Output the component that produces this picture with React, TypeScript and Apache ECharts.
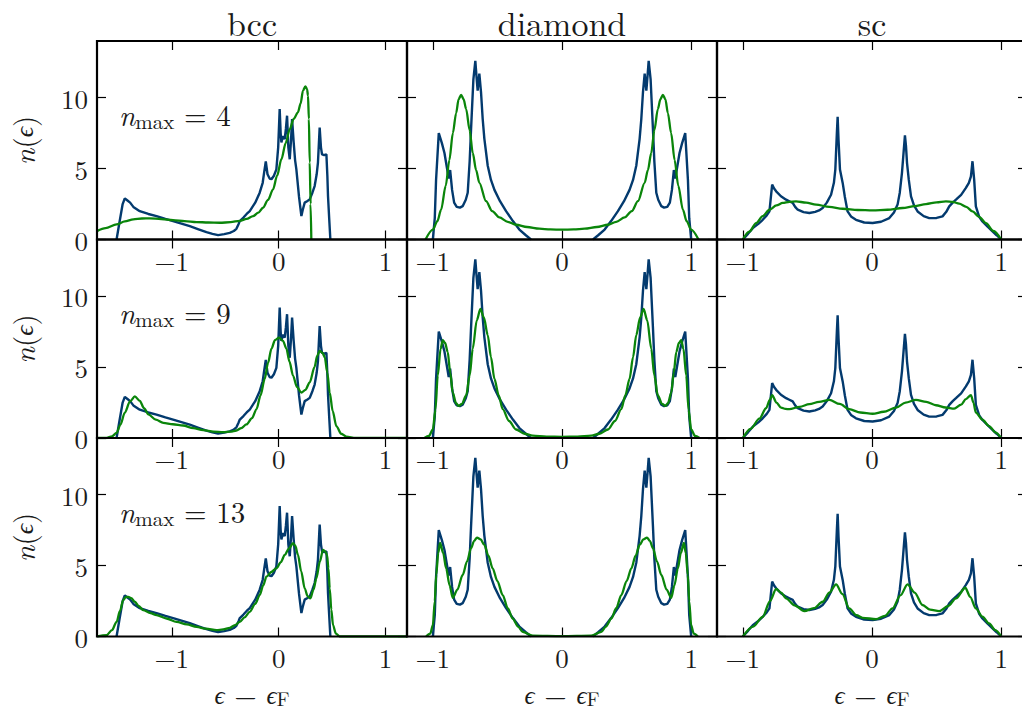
import React, { useEffect, useRef } from "react";
import * as echarts from "echarts";

// ---------- data ----------
const columnTitles = ["bcc", "diamond", "sc"];
const nmaxValues = [4, 9, 13];
const xRanges: number[][] = [[-1.7, 1.2], [-1.2, 1.2], [-1.2, 1.2]];
const xTickValues = [-1, 0, 1];
const yTickValues = [0, 5, 10];
const yMax = 14;

// exact DOS (dark blue), same in every row of a column
const bccExact: number[][] = [[-1.517,0],[-1.49,1.2],[-1.46,2.5],[-1.44,2.9],[-1.415,2.75],[-1.39,2.6],[-1.36,2.3],[-1.3,2.0],[-1.22,1.8],[-1.143,1.65],[-1.06,1.45],[-0.988,1.3],[-0.91,1.12],[-0.832,0.94],[-0.75,0.72],[-0.676,0.52],[-0.62,0.4],[-0.567,0.31],[-0.51,0.38],[-0.458,0.47],[-0.42,0.6],[-0.396,0.75],[-0.375,1.1],[-0.364,1.3],[-0.33,1.55],[-0.3,1.8],[-0.271,2.0],[-0.22,2.6],[-0.178,3.3],[-0.15,4.0],[-0.135,4.8],[-0.121,5.5],[-0.105,4.6],[-0.085,4.3],[-0.068,4.25],[-0.045,4.5],[-0.022,4.95],[-0.005,6.5],[0.009,9.2],[0.018,7.5],[0.025,6.84],[0.04,7.3],[0.056,7.08],[0.067,7.8],[0.078,8.73],[0.09,6.5],[0.103,5.66],[0.115,7.0],[0.125,8.5],[0.14,6.84],[0.153,5.6],[0.165,4.95],[0.19,3.0],[0.212,1.65],[0.225,2.1],[0.243,2.6],[0.265,2.7],[0.29,2.83],[0.315,3.3],[0.336,3.77],[0.355,4.6],[0.367,5.43],[0.383,7.9],[0.395,6.5],[0.405,6.0],[0.425,5.95],[0.446,6.0],[0.455,4.5],[0.461,3.07],[0.472,1.5],[0.483,0]];
const diamondExact: any[] = [[-1.0,0],[-0.985,1.5],[-0.975,4.2],[-0.954,7.5],[-0.93,6.8],[-0.91,6.1],[-0.877,4.3],[-0.866,4.9],[-0.851,3.5],[-0.835,2.6],[-0.815,2.3],[-0.79,2.25],[-0.769,2.35],[-0.745,2.8],[-0.73,3.3],[-0.715,5.5],[-0.704,7.8],[-0.686,11.3],[-0.671,12.6],[-0.662,11.5],[-0.653,10.5],[-0.64,11.7],[-0.627,10.4],[-0.614,8.5],[-0.601,7.1],[-0.575,5.2],[-0.55,4.2],[-0.523,3.5],[-0.48,2.7],[-0.433,2.0],[-0.38,1.3],[-0.33,0.7],[-0.28,0.3],[-0.24,0],[0,"-"],[0.24,0],[0.28,0.3],[0.33,0.7],[0.38,1.3],[0.433,2.0],[0.48,2.7],[0.523,3.5],[0.55,4.2],[0.575,5.2],[0.601,7.1],[0.614,8.5],[0.627,10.4],[0.64,11.7],[0.653,10.5],[0.662,11.5],[0.671,12.6],[0.686,11.3],[0.704,7.8],[0.715,5.5],[0.73,3.3],[0.745,2.8],[0.769,2.35],[0.79,2.25],[0.815,2.3],[0.835,2.6],[0.851,3.5],[0.866,4.9],[0.877,4.3],[0.91,6.1],[0.93,6.8],[0.954,7.5],[0.975,4.2],[0.985,1.5],[1.0,0]];
const scExact: number[][] = [[-1,0],[-0.96,0.4],[-0.923,0.8],[-0.88,1.1],[-0.846,1.39],[-0.815,1.7],[-0.794,1.98],[-0.785,2.8],[-0.773,3.87],[-0.758,3.6],[-0.742,3.4],[-0.705,3.05],[-0.665,2.81],[-0.64,2.7],[-0.614,2.58],[-0.595,2.3],[-0.575,2.1],[-0.53,1.93],[-0.485,1.87],[-0.44,1.95],[-0.41,2.05],[-0.382,2.22],[-0.35,2.6],[-0.317,3.16],[-0.295,4.0],[-0.284,4.93],[-0.272,7.5],[-0.266,8.66],[-0.259,7.0],[-0.248,4.93],[-0.227,3.99],[-0.21,3.0],[-0.189,1.98],[-0.16,1.6],[-0.124,1.39],[-0.06,1.2],[0.005,1.16],[0.07,1.25],[0.134,1.51],[0.17,1.9],[0.198,2.46],[0.215,3.3],[0.232,4.7],[0.245,6.2],[0.255,7.34],[0.263,6.6],[0.271,5.41],[0.285,4.2],[0.302,3.04],[0.325,2.4],[0.353,1.98],[0.4,1.65],[0.443,1.51],[0.5,1.52],[0.546,1.63],[0.575,1.95],[0.598,2.34],[0.625,2.6],[0.65,2.81],[0.69,3.15],[0.727,3.64],[0.75,4.0],[0.766,4.46],[0.778,5.52],[0.791,4.22],[0.804,2.34],[0.83,1.6],[0.855,1.27],[0.895,0.9],[0.933,0.57],[0.965,0.3],[1.0,0]];

// approximations (green), one per n_max
const bccN4: number[][] = [[-1.7,0.59],[-1.62,0.8],[-1.517,1.06],[-1.44,1.28],[-1.36,1.42],[-1.28,1.48],[-1.206,1.49],[-1.1,1.44],[-0.988,1.37],[-0.88,1.3],[-0.769,1.23],[-0.66,1.2],[-0.551,1.18],[-0.45,1.22],[-0.364,1.32],[-0.3,1.45],[-0.24,1.65],[-0.19,1.9],[-0.147,2.24],[-0.1,2.8],[-0.053,3.54],[-0.015,4.5],[0.025,5.66],[0.065,6.8],[0.103,7.78],[0.14,8.5],[0.18,8.97],[0.205,9.6],[0.227,10.5],[0.249,10.8],[0.265,10.6],[0.274,10.14],[0.282,8.5],[0.29,5.43],[0.298,2.5],[0.305,0]];
const bccN9: number[][] = [[-1.7,0],[-1.61,0],[-1.56,0.12],[-1.517,0.36],[-1.48,0.95],[-1.44,1.79],[-1.39,2.6],[-1.346,2.93],[-1.3,2.62],[-1.26,2.1],[-1.22,1.67],[-1.15,1.3],[-1.08,1.07],[-0.99,0.97],[-0.894,0.88],[-0.8,0.7],[-0.707,0.55],[-0.61,0.45],[-0.52,0.41],[-0.45,0.45],[-0.396,0.53],[-0.35,0.7],[-0.302,0.96],[-0.25,1.4],[-0.208,2.03],[-0.17,3.0],[-0.131,4.17],[-0.1,5.3],[-0.068,6.3],[-0.035,6.9],[0.003,7.07],[0.04,6.85],[0.072,6.3],[0.1,5.4],[0.134,4.4],[0.17,3.6],[0.212,3.2],[0.25,3.4],[0.29,3.93],[0.335,5.0],[0.36,5.8],[0.383,6.14],[0.41,6.0],[0.43,5.71],[0.455,4.6],[0.477,3.2],[0.505,1.9],[0.539,0.84],[0.585,0.3],[0.632,0.1],[0.72,0],[1.2,0]];
const bccN13: number[][] = [[-1.7,0],[-1.61,0.09],[-1.56,0.45],[-1.517,1.03],[-1.485,1.8],[-1.455,2.57],[-1.43,2.78],[-1.408,2.8],[-1.38,2.7],[-1.346,2.45],[-1.31,2.15],[-1.268,1.86],[-1.2,1.65],[-1.143,1.51],[-1.05,1.27],[-0.956,1.03],[-0.86,0.85],[-0.769,0.68],[-0.68,0.55],[-0.582,0.45],[-0.52,0.5],[-0.458,0.61],[-0.41,0.8],[-0.364,1.03],[-0.32,1.35],[-0.271,1.74],[-0.22,2.3],[-0.178,2.92],[-0.145,3.6],[-0.115,4.22],[-0.07,4.55],[-0.022,4.81],[0.02,5.25],[0.056,5.75],[0.095,6.2],[0.134,6.58],[0.155,6.4],[0.18,5.75],[0.21,4.6],[0.243,3.4],[0.27,2.85],[0.296,2.69],[0.325,3.3],[0.352,4.1],[0.385,5.3],[0.414,6.1],[0.435,6.0],[0.452,5.75],[0.465,4.8],[0.477,3.4],[0.492,1.9],[0.508,0.8],[0.535,0.2],[0.57,0],[1.2,0]];

const diamondN4: number[][] = [[-1.057,0],[-1.0,0.7],[-0.965,1.3],[-0.936,2.1],[-0.9,3.8],[-0.872,5.6],[-0.845,7.5],[-0.82,8.9],[-0.8,9.9],[-0.781,10.2],[-0.762,9.9],[-0.742,9.2],[-0.715,7.7],[-0.691,6.1],[-0.665,4.9],[-0.64,4.0],[-0.588,2.7],[-0.54,2.0],[-0.485,1.56],[-0.42,1.25],[-0.356,1.04],[-0.27,0.88],[-0.176,0.76],[-0.09,0.71],[0,0.69],[0.09,0.71],[0.176,0.76],[0.27,0.88],[0.356,1.04],[0.42,1.25],[0.485,1.56],[0.54,2.0],[0.588,2.7],[0.64,4.0],[0.665,4.9],[0.691,6.1],[0.715,7.7],[0.742,9.2],[0.762,9.9],[0.781,10.2],[0.8,9.9],[0.82,8.9],[0.845,7.5],[0.872,5.6],[0.9,3.8],[0.936,2.1],[0.965,1.3],[1.0,0.7],[1.057,0]];
const diamondN9: number[][] = [[-1.065,0],[-1.03,0.15],[-1.0,0.6],[-0.98,2.0],[-0.962,4.4],[-0.94,6.3],[-0.923,6.9],[-0.905,6.7],[-0.885,6.07],[-0.865,4.6],[-0.846,3.2],[-0.82,2.45],[-0.8,2.26],[-0.775,2.4],[-0.742,3.0],[-0.715,4.4],[-0.691,6.3],[-0.66,8.3],[-0.632,9.1],[-0.605,8.5],[-0.575,7.26],[-0.55,5.7],[-0.523,4.17],[-0.49,3.0],[-0.459,2.03],[-0.41,1.2],[-0.356,0.6],[-0.29,0.3],[-0.227,0.17],[-0.12,0.1],[0,0.08],[0.12,0.1],[0.227,0.17],[0.29,0.3],[0.356,0.6],[0.41,1.2],[0.459,2.03],[0.49,3.0],[0.523,4.17],[0.55,5.7],[0.575,7.26],[0.605,8.5],[0.632,9.1],[0.66,8.3],[0.691,6.3],[0.715,4.4],[0.742,3.0],[0.775,2.4],[0.8,2.26],[0.82,2.45],[0.846,3.2],[0.865,4.6],[0.885,6.07],[0.905,6.7],[0.923,6.9],[0.94,6.3],[0.962,4.4],[0.98,2.0],[1.0,0.6],[1.03,0.15],[1.065,0]];
const diamondN13: number[][] = [[-1.052,0],[-1.02,0.2],[-1.0,0.8],[-0.985,2.5],[-0.974,4.34],[-0.958,5.9],[-0.944,6.6],[-0.92,5.9],[-0.897,4.8],[-0.87,3.6],[-0.846,2.73],[-0.81,3.3],[-0.769,4.34],[-0.735,5.3],[-0.704,6.23],[-0.68,6.75],[-0.658,6.98],[-0.63,6.85],[-0.601,6.46],[-0.57,5.7],[-0.537,4.81],[-0.5,3.9],[-0.459,2.92],[-0.42,2.0],[-0.382,1.27],[-0.34,0.7],[-0.305,0.33],[-0.227,0.06],[0,0.02],[0.227,0.06],[0.305,0.33],[0.34,0.7],[0.382,1.27],[0.42,2.0],[0.459,2.92],[0.5,3.9],[0.537,4.81],[0.57,5.7],[0.601,6.46],[0.63,6.85],[0.658,6.98],[0.68,6.75],[0.704,6.23],[0.735,5.3],[0.769,4.34],[0.81,3.3],[0.846,2.73],[0.87,3.6],[0.897,4.8],[0.92,5.9],[0.944,6.6],[0.958,5.9],[0.974,4.34],[0.985,2.5],[1.0,0.8],[1.02,0.2],[1.052,0]];

const scN4: number[][] = [[-1,0],[-0.95,0.55],[-0.897,1.16],[-0.846,1.65],[-0.794,2.1],[-0.74,2.4],[-0.691,2.58],[-0.64,2.66],[-0.588,2.69],[-0.51,2.6],[-0.433,2.46],[-0.33,2.3],[-0.227,2.17],[-0.11,2.08],[0.005,2.05],[0.12,2.1],[0.237,2.22],[0.33,2.36],[0.418,2.5],[0.5,2.62],[0.572,2.69],[0.625,2.65],[0.675,2.53],[0.73,2.3],[0.778,1.98],[0.83,1.6],[0.882,1.16],[0.94,0.6],[1.0,0]];
const scN9: number[][] = [[-1,0],[-0.94,0.65],[-0.872,1.36],[-0.82,2.1],[-0.79,2.7],[-0.773,3.03],[-0.74,2.5],[-0.704,2.14],[-0.67,2.05],[-0.64,2.03],[-0.56,2.2],[-0.485,2.39],[-0.41,2.55],[-0.33,2.69],[-0.25,2.4],[-0.176,2.03],[-0.09,1.8],[0.005,1.71],[0.09,1.85],[0.186,2.14],[0.26,2.5],[0.34,2.69],[0.42,2.55],[0.495,2.31],[0.57,2.15],[0.636,2.07],[0.69,2.35],[0.727,2.74],[0.766,3.03],[0.785,2.5],[0.804,1.79],[0.855,1.3],[0.907,0.84],[0.955,0.4],[1.0,0]];
const scN13: number[][] = [[-1,0],[-0.92,0.7],[-0.846,1.39],[-0.79,2.5],[-0.742,3.35],[-0.705,3.1],[-0.665,2.69],[-0.6,2.2],[-0.524,1.79],[-0.45,2.0],[-0.382,2.45],[-0.33,3.1],[-0.278,3.68],[-0.23,3.0],[-0.176,1.98],[-0.12,1.5],[-0.073,1.32],[0.031,1.22],[0.1,1.45],[0.159,1.98],[0.22,2.9],[0.275,3.68],[0.33,3.1],[0.391,2.22],[0.45,1.9],[0.52,1.79],[0.59,2.15],[0.65,2.69],[0.722,3.44],[0.76,2.8],[0.804,1.98],[0.855,1.4],[0.907,0.92],[0.955,0.45],[1.0,0]];

const exactByColumn = [bccExact, diamondExact, scExact];
const approxByPanel = [
  [bccN4, diamondN4, scN4],
  [bccN9, diamondN9, scN9],
  [bccN13, diamondN13, scN13],
];

// ---------- style / layout ----------
const FONT = "Latin Modern Roman";
const TEXT = "#1a1a1a";
const BLUE = "#033a6e";
const GREEN = "#0a850a";
const LEFT0 = 97;
const COLW = 310;
const TOP0 = 41;
const ROWH = 198.5;

const fmt = (v: number) => (v < 0 ? "\u2212" + Math.abs(v) : String(v));

function buildOption() {
  const grid: any[] = [];
  const xAxis: any[] = [];
  const yAxis: any[] = [];
  const series: any[] = [];
  const graphic: any[] = [];
  const tickStyle = { color: "#000", width: 1.2 };
  const noLine = { show: false, onZero: false };

  for (let r = 0; r < 3; r++) {
    for (let c = 0; c < 3; c++) {
      const p = r * 3 + c;
      grid.push({
        left: LEFT0 + COLW * c,
        top: TOP0 + ROWH * r,
        width: COLW,
        height: ROWH,
        show: false,
        containLabel: false,
        outerBoundsMode: "none",
      });
      const [xmin, xmax] = xRanges[c];
      xAxis.push({
        type: "value", gridIndex: p, min: xmin, max: xmax, position: "bottom",
        axisLine: noLine,
        splitLine: { show: false },
        axisTick: { show: true, inside: true, length: 9, customValues: xTickValues, lineStyle: tickStyle },
        axisLabel: { show: true, customValues: xTickValues, formatter: fmt, margin: 8, fontSize: 27, lineHeight: 24, fontFamily: FONT, color: TEXT },
      });
      xAxis.push({
        type: "value", gridIndex: p, min: xmin, max: xmax, position: "top",
        axisLine: noLine,
        splitLine: { show: false },
        axisTick: { show: true, inside: true, length: 9, customValues: xTickValues, lineStyle: tickStyle },
        axisLabel: { show: false },
      });
      yAxis.push({
        type: "value", gridIndex: p, min: 0, max: yMax, position: "left",
        axisLine: noLine,
        splitLine: { show: false },
        axisTick: { show: true, inside: true, length: 9, customValues: yTickValues, lineStyle: tickStyle },
        axisLabel: { show: c === 0, customValues: yTickValues, formatter: fmt, margin: 9, fontSize: 27, lineHeight: 24, fontFamily: FONT, color: TEXT },
      });
      yAxis.push({
        type: "value", gridIndex: p, min: 0, max: yMax, position: "right",
        axisLine: noLine,
        splitLine: { show: false },
        axisTick: { show: true, inside: true, length: 9, customValues: yTickValues, lineStyle: tickStyle },
        axisLabel: { show: false },
      });
      series.push({
        type: "line", xAxisIndex: 2 * p, yAxisIndex: 2 * p,
        data: exactByColumn[c], symbol: "none", showSymbol: false, smooth: false, connectNulls: false,
        lineStyle: { color: BLUE, width: 2.4 }, clip: true, z: 3, silent: true,
      });
      series.push({
        type: "line", xAxisIndex: 2 * p, yAxisIndex: 2 * p,
        data: approxByPanel[r][c], symbol: "none", showSymbol: false, smooth: 0.3, smoothMonotone: "x",
        lineStyle: { color: GREEN, width: 2.3 }, clip: true, z: 4, silent: true,
      });
      // frame drawn above the curves, as the spines are
      graphic.push({
        type: "rect", z: 100, silent: true,
        shape: { x: LEFT0 + COLW * c, y: TOP0 + ROWH * r, width: COLW, height: ROWH },
        style: { fill: "none", stroke: "#000", lineWidth: 2.2 },
      });
    }
  }

  const baseText = { fontFamily: FONT, fill: TEXT };
  for (let c = 0; c < 3; c++) {
    graphic.push({
      type: "text", x: LEFT0 + COLW * c + COLW / 2, y: 22, silent: true,
      style: { ...baseText, text: columnTitles[c], fontSize: 34, lineHeight: 26, align: "center", verticalAlign: "middle", textAlign: "center", textVerticalAlign: "middle" },
    });
    graphic.push({
      type: "text", x: LEFT0 + COLW * c + COLW / 2, y: 693, silent: true,
      style: {
        ...baseText,
        text: "{i|\u03f5}{m| \u2212 }{i|\u03f5}{s|F}",
        align: "center", verticalAlign: "middle", textAlign: "center", textVerticalAlign: "middle",
        rich: {
          i: { fontFamily: FONT, fontStyle: "italic", fontSize: 25, lineHeight: 28, verticalAlign: "middle", fill: TEXT, color: TEXT },
          m: { fontFamily: FONT, fontSize: 29, lineHeight: 22, verticalAlign: "top", fill: TEXT, color: TEXT },
          s: { fontFamily: FONT, fontSize: 20, lineHeight: 16, verticalAlign: "bottom", fill: TEXT, color: TEXT },
        },
      },
    });
  }
  for (let r = 0; r < 3; r++) {
    graphic.push({
      type: "text", x: 22, y: TOP0 + ROWH * r + ROWH / 2, rotation: Math.PI / 2, silent: true,
      style: {
        ...baseText,
        text: "{i|n}{r|(}{g|\u03f5}{r|)}",
        align: "center", verticalAlign: "middle", textAlign: "center", textVerticalAlign: "middle",
        rich: {
          i: { fontFamily: FONT, fontStyle: "italic", fontSize: 29, lineHeight: 30, fill: TEXT, color: TEXT },
          r: { fontFamily: FONT, fontSize: 29, lineHeight: 30, fill: TEXT, color: TEXT },
          g: { fontFamily: FONT, fontStyle: "italic", fontSize: 26, lineHeight: 30, fill: TEXT, color: TEXT },
        },
      },
    });
    graphic.push({
      type: "text", x: 119, y: TOP0 + ROWH * r + 72, silent: true,
      style: {
        ...baseText,
        text: "{i|n}{s|max}{r| = " + nmaxValues[r] + "}",
        align: "left", verticalAlign: "middle", textAlign: "left", textVerticalAlign: "middle",
        rich: {
          i: { fontFamily: FONT, fontStyle: "italic", fontSize: 29, lineHeight: 34, verticalAlign: "middle", fill: TEXT, color: TEXT },
          r: { fontFamily: FONT, fontSize: 29, lineHeight: 34, verticalAlign: "middle", fill: TEXT, color: TEXT },
          s: { fontFamily: FONT, fontSize: 21, lineHeight: 21, verticalAlign: "bottom", fill: TEXT, color: TEXT },
        },
      },
    });
  }

  return { animation: false, backgroundColor: "#fff", grid, xAxis, yAxis, series, graphic };
}

export default function App() {
  const ref = useRef<HTMLDivElement>(null);
  useEffect(() => {
    if (!ref.current) return;
    const chart = echarts.init(ref.current, null, { renderer: "svg" });
    chart.setOption(buildOption() as any);
    return () => chart.dispose();
  }, []);
  return (
    <div
      ref={ref}
      style={{ position: "absolute", left: 0, top: 0, width: 1022, height: 713, background: "#fff" }}
    />
  );
}
